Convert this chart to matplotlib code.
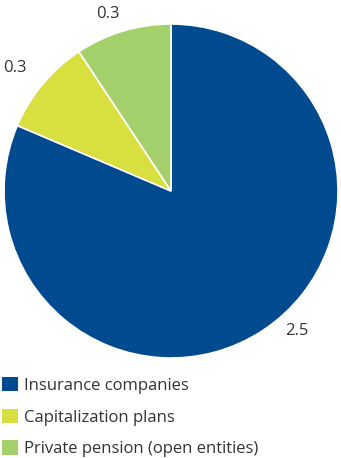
import matplotlib
matplotlib.use("Agg")
import matplotlib.pyplot as plt
import numpy as np

plt.rcParams['font.family'] = ['Open Sans', 'DejaVu Sans']

categories = ["Insurance companies", "Capitalization plans", "Private pension (open entities)"]
values = [2.54, 0.29, 0.29]
shown = ["2.5", "0.3", "0.3"]
colors = ["#004A8F", "#D7E03E", "#A3D06B"]

fig = plt.figure(figsize=(3.41, 4.58), dpi=100)
ax = fig.add_axes([4 / 341, 100 / 458, 334 / 341, 334 / 458])

wedges, _ = ax.pie(values, colors=colors, startangle=90, counterclock=False,
                   wedgeprops=dict(edgecolor="white", linewidth=1.2), radius=1.0)
ax.set_xlim(-1, 1)
ax.set_ylim(-1, 1)
ax.set_aspect("equal")

# value labels outside the slices
label_r = [1.124, 1.19, 1.125]
label_shift = [8.5, 1.5, 3]
for w, txt, r, sh in zip(wedges, shown, label_r, label_shift):
    mid = np.deg2rad((w.theta1 + w.theta2) / 2 + sh)
    ax.text(r * np.cos(mid), r * np.sin(mid), txt, ha="center", va="center",
            fontsize=12, color="#333333", clip_on=False)

leg = fig.legend(wedges, categories, loc="upper left", bbox_to_anchor=(2 / 341, 1 - 377 / 458),
                 frameon=False, fontsize=12, handlelength=0.96, handleheight=0.96,
                 handletextpad=0.36, labelspacing=0.88, borderaxespad=0, borderpad=0)
for t in leg.get_texts():
    t.set_color("#333333")
for h in leg.legend_handles:
    h.set_edgecolor("none")

fig.savefig("out.png", dpi=100)
